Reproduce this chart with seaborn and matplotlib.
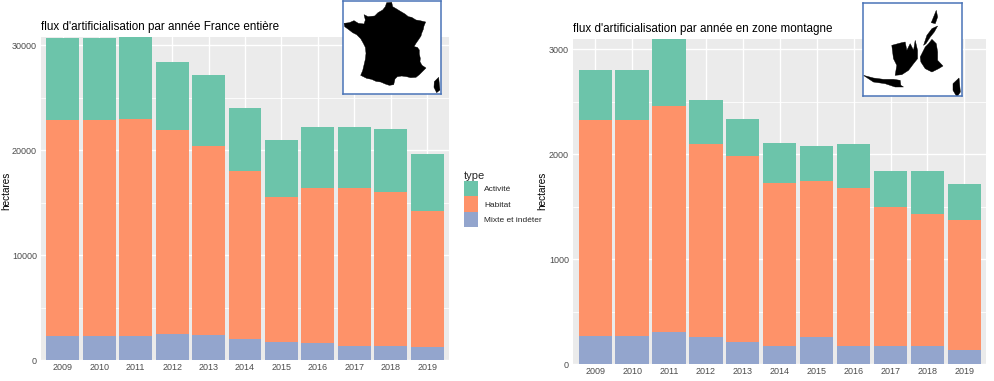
import pandas as pd
import seaborn as sns
import matplotlib
matplotlib.use("Agg")
import matplotlib.pyplot as plt
from matplotlib.patches import Patch, Polygon

annees = [2009, 2010, 2011, 2012, 2013, 2014, 2015, 2016, 2017, 2018, 2019]
types = ["Activité", "Habitat", "Mixte et indéter"]

fr_mixte = [2286, 2286, 2286, 2505, 2380, 2000, 1714, 1619, 1333, 1333, 1206]
fr_habitat = [20570, 20570, 20630, 19395, 18030, 16000, 13770, 14730, 15080, 14700, 12950]
fr_activite = [7810, 7810, 7870, 6510, 6730, 6000, 5430, 5840, 5780, 6000, 5490]

mt_mixte = [270, 270, 308, 257, 210, 174, 257, 174, 174, 171, 136]
mt_habitat = [2054, 2054, 2155, 1841, 1774, 1556, 1486, 1505, 1318, 1261, 1235]
mt_activite = [476, 476, 632, 416, 349, 375, 333, 416, 346, 406, 343]

couleurs = ["#6CC4AA", "#FE9269", "#93A5CD"]

# silhouettes des encarts, en pixels de l'encart (110 x 100, origine en haut)
carte_france = [
    [(140, 8), (155, 7), (158, 20), (170, 27), (178, 32), (195, 42), (205, 50), (215, 52),
     (228, 60), (240, 62), (257, 66), (252, 78), (250, 88), (245, 100), (243, 108), (235, 120),
     (228, 130), (222, 140), (232, 142), (238, 150), (238, 162), (241, 175), (240, 185),
     (246, 196), (258, 204), (248, 214), (238, 224), (228, 232), (212, 233), (200, 230),
     (185, 228), (172, 230), (165, 237), (161, 254), (148, 256), (136, 252), (122, 246),
     (108, 244), (95, 238), (80, 235), (62, 226), (68, 212), (72, 195), (76, 178), (78, 160),
     (76, 142), (70, 130), (62, 116), (50, 104), (38, 98), (25, 88), (14, 80), (12, 70),
     (28, 68), (42, 62), (55, 70), (72, 72), (76, 60), (72, 44), (84, 50), (104, 48),
     (114, 38), (128, 30), (136, 20)],
    [(296, 232), (300, 270), (290, 278), (282, 262), (283, 245)],
]
carte_montagne = [
    [(228, 25), (232, 45), (225, 65), (213, 62), (222, 40)],
    [(232, 72), (215, 80), (200, 100), (190, 130), (197, 125), (210, 105), (222, 90)],
    [(215, 112), (228, 125), (232, 150), (232, 175), (248, 192), (235, 200), (215, 210),
     (195, 200), (182, 180), (180, 165), (195, 135), (205, 125)],
    [(95, 130), (125, 122), (135, 120), (140, 145), (150, 125), (160, 145), (165, 115),
     (172, 145), (172, 170), (160, 185), (145, 205), (125, 218), (105, 220), (110, 190),
     (100, 170)],
    [(10, 220), (40, 228), (70, 232), (100, 232), (120, 235), (122, 250), (130, 255),
     (105, 255), (75, 245), (40, 240)],
    [(296, 228), (300, 270), (290, 285), (278, 265), (278, 245)],
]

W, H = 994, 381


def _rect(x0, y0, x1, y1):
    return [x0 / W, 1 - y1 / H, (x1 - x0) / W, (y1 - y0) / H]


def _frame(mixte, habitat, activite):
    rows = []
    for nom, vals in zip(types, [activite, habitat, mixte]):
        for a, v in zip(annees, vals):
            rows.append({"annee": a, "type": nom, "valeur": v})
    return pd.DataFrame(rows)


def panneau(fig, rect, df_data, titre, ymax, major, minor, ylabel_x):
    ax = fig.add_axes(rect)
    ax.set_facecolor("#EBEBEB")
    sns.histplot(data=df_data, x="annee", hue="type", weights="valeur", hue_order=types,
                 multiple="stack", discrete=True, shrink=0.9, palette=couleurs,
                 alpha=1, linewidth=0, legend=False, ax=ax)
    ax.set_xlim(annees[0] - 0.6, annees[-1] + 0.6)
    ax.set_ylim(0, ymax)
    ax.set_xticks(annees)
    ax.set_yticks(major)
    ax.set_yticks(minor, minor=True)
    ax.set_axisbelow(True)
    ax.grid(True, which="major", color="white", lw=1)
    ax.grid(True, which="minor", axis="y", color="white", lw=0.6)
    ax.tick_params(which="both", length=0, labelsize=6.5, labelcolor="#4D4D4D")
    ax.tick_params(axis="x", pad=2)
    ax.tick_params(axis="y", pad=3)
    sns.despine(ax=ax, left=True, bottom=True)
    ax.set_xlabel("")
    ax.set_ylabel("hectares", fontsize=7.2, color="black")
    ax.yaxis.set_label_coords(ylabel_x, 0.5, transform=fig.transFigure)
    ax.set_title(titre, loc="left", fontsize=8.4, color="black", pad=5)
    return ax


def encart(fig, rect, formes):
    ax = fig.add_axes(rect, zorder=5)
    ax.set_xlim(8, 304)
    ax.set_ylim(282, 3)
    ax.set_xticks([])
    ax.set_yticks([])
    for forme in formes:
        ax.add_patch(Polygon(forme, closed=True, fc="black", ec="black", lw=0.3))
    for s in ax.spines.values():
        s.set_color("#4A74B8")
        s.set_linewidth(1.1)


sns.set_style("white")
plt.rcParams["font.family"] = ["Liberation Sans", "DejaVu Sans"]

fig = plt.figure(figsize=(W / 100, H / 100), dpi=100)

panneau(fig, _rect(41, 36.5, 449, 360), _frame(fr_mixte, fr_habitat, fr_activite),
        "flux d'artificialisation par année France entière", 30810,
        [0, 10000, 20000, 30000], [5000, 15000, 25000], 11.5 / W)
panneau(fig, _rect(573, 39.3, 986.5, 364), _frame(mt_mixte, mt_habitat, mt_activite),
        "flux d'artificialisation par année en zone montagne", 3095,
        [0, 1000, 2000, 3000], [500, 1500, 2500], 547.5 / W)

encart(fig, _rect(342.7, 1, 441.3, 94), carte_france)
encart(fig, _rect(862.7, 3, 961.7, 96), carte_montagne)

handles = [Patch(fc=c, ec="none", label=t) for c, t in zip(couleurs, types)]
fig.legend(handles=handles, title="type", loc="upper left", bbox_to_anchor=(461 / W, 1 - 168.5 / H),
           frameon=False, fontsize=6, title_fontsize=8, alignment="left",
           handlelength=1.75, handleheight=2.45, labelspacing=0, handletextpad=0.7,
           borderpad=0.3, borderaxespad=0)

plt.savefig("out.png", dpi=100)
